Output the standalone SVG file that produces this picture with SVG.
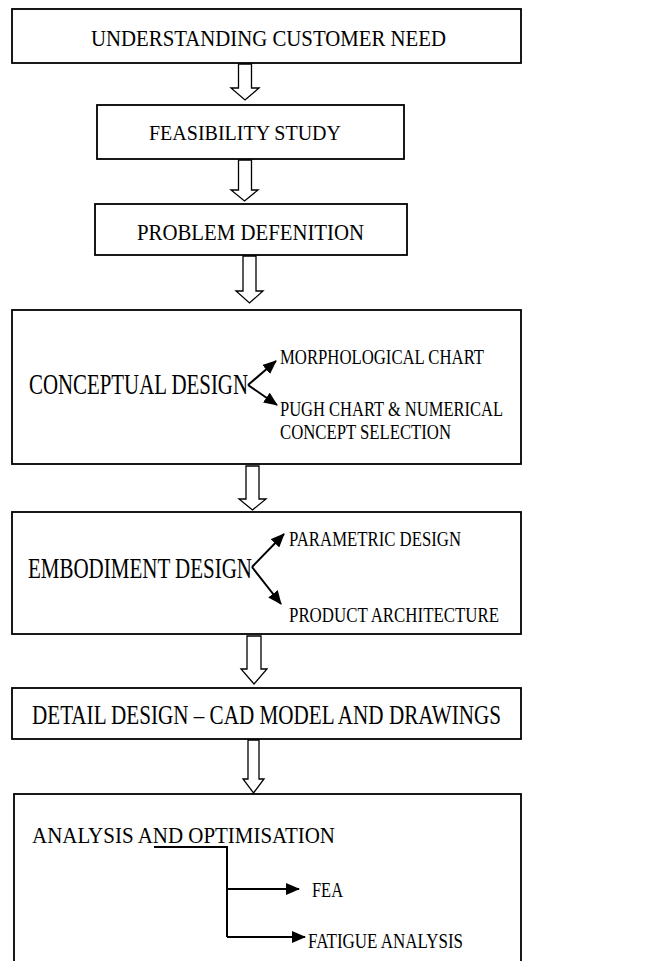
<svg xmlns="http://www.w3.org/2000/svg" width="663" height="961" viewBox="0 0 663 961">
<style>
.box{fill:#fff;stroke:#000;stroke-width:1.8}
.blk{fill:#fff;stroke:#000;stroke-width:1.3;stroke-linejoin:miter}
.t{font-family:"Liberation Serif","Times New Roman",serif;fill:#000}
.ln{fill:none;stroke:#000;stroke-width:2}
</style>
<defs>
<marker id="ah" markerUnits="userSpaceOnUse" markerWidth="14" markerHeight="12" refX="13" refY="6" orient="auto">
<path d="M0,0 L14,6 L0,12 Z" fill="#000"/>
</marker>
</defs>
<rect width="663" height="961" fill="#fff"/>

<g id="n1">
<rect class="box" x="12" y="9" width="509" height="54"/>
<text class="t" x="91" y="46" font-size="23" textLength="355" lengthAdjust="spacingAndGlyphs">UNDERSTANDING CUSTOMER NEED</text>
</g>
<g id="n2">
<rect class="box" x="97" y="105" width="307" height="54"/>
<text class="t" x="149" y="140" font-size="22" textLength="192" lengthAdjust="spacingAndGlyphs">FEASIBILITY STUDY</text>
</g>
<g id="n3">
<rect class="box" x="95" y="204" width="312" height="51"/>
<text class="t" x="137" y="240" font-size="24" textLength="227" lengthAdjust="spacingAndGlyphs">PROBLEM DEFENITION</text>
</g>
<g id="n4">
<rect class="box" x="12" y="310" width="509" height="154"/>
<text class="t" x="29" y="394" font-size="30" textLength="219" lengthAdjust="spacingAndGlyphs">CONCEPTUAL DESIGN</text>
<text class="t" x="280" y="364" font-size="20.5" textLength="204" lengthAdjust="spacingAndGlyphs">MORPHOLOGICAL CHART</text>
<text class="t" x="280" y="416" font-size="20.5" textLength="223" lengthAdjust="spacingAndGlyphs">PUGH CHART &amp; NUMERICAL</text>
<text class="t" x="280" y="439" font-size="20.5" textLength="171" lengthAdjust="spacingAndGlyphs">CONCEPT SELECTION</text>
</g>
<g id="n5">
<rect class="box" x="12" y="512" width="509" height="122"/>
<text class="t" x="28" y="578" font-size="29" textLength="224" lengthAdjust="spacingAndGlyphs">EMBODIMENT DESIGN</text>
<text class="t" x="289" y="546" font-size="20" textLength="172" lengthAdjust="spacingAndGlyphs">PARAMETRIC DESIGN</text>
<text class="t" x="289" y="622" font-size="20" textLength="210" lengthAdjust="spacingAndGlyphs">PRODUCT ARCHITECTURE</text>
</g>
<g id="n6">
<rect class="box" x="12" y="688" width="509" height="51"/>
<text class="t" x="32" y="724" font-size="27" textLength="469" lengthAdjust="spacingAndGlyphs">DETAIL DESIGN – CAD MODEL AND DRAWINGS</text>
</g>
<g id="n7">
<rect class="box" x="14" y="794" width="507" height="180"/>
<text class="t" x="32" y="843" font-size="23" textLength="303" lengthAdjust="spacingAndGlyphs">ANALYSIS AND OPTIMISATION</text>
<text class="t" x="312" y="897" font-size="20.5" textLength="31" lengthAdjust="spacingAndGlyphs">FEA</text>
<text class="t" x="308" y="948" font-size="20.5" textLength="155" lengthAdjust="spacingAndGlyphs">FATIGUE ANALYSIS</text>
</g>

<g id="connectors">
<polygon class="blk" points="238.5,64 251.5,64 251.5,88 259,88 245,100 231,88 238.5,88"/>
<polygon class="blk" points="238.5,160 251.5,160 251.5,190 258,190 244.5,201 231,190 238.5,190"/>
<polygon class="blk" points="243,256 256,256 256,291 263,291 249.5,303 236,291 243,291"/>
<polygon class="blk" points="246,466 259,466 259,499 266,499 252.5,510 239,499 246,499"/>
<polygon class="blk" points="247,636 261,636 261,669 267,669 254,684 241,669 247,669"/>
<polygon class="blk" points="248,740 259,740 259,779 264,779 253.5,793 243,779 248,779"/>

<path class="ln" d="M248,385 L276,361" marker-end="url(#ah)"/>
<path class="ln" d="M248,385 L277,405" marker-end="url(#ah)"/>
<path class="ln" d="M252,567 L284,534" marker-end="url(#ah)"/>
<path class="ln" d="M252,567 L281,604" marker-end="url(#ah)"/>

<path class="ln" d="M154,847 L227,847 L227,937"/>
<path class="ln" d="M227,889 L299,889" marker-end="url(#ah)"/>
<path class="ln" d="M227,937 L305,937" marker-end="url(#ah)"/>
</g>
</svg>
